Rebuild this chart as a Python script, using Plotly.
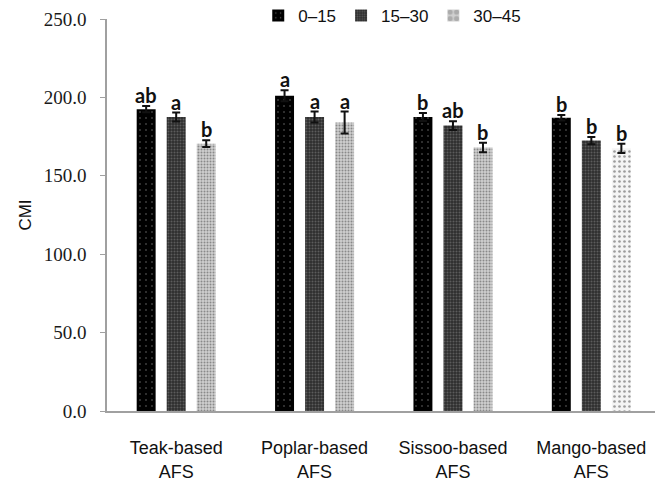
import plotly.graph_objects as go

# Agroforestry systems and soil depth layers (cm)
systems = ["Teak-based<br>AFS", "Poplar-based<br>AFS", "Sissoo-based<br>AFS", "Mango-based<br>AFS"]
depths = ["0–15", "15–30", "30–45"]

# Carbon management index (mean) per depth, one value per system
cmi_0_15 = [192.5, 201.0, 187.5, 187.0]
cmi_15_30 = [187.5, 187.5, 182.0, 172.5]
cmi_30_45 = [170.5, 184.0, 168.0, 167.5]

# Standard errors
se_0_15 = [2.0, 3.5, 2.5, 1.8]
se_15_30 = [2.8, 3.5, 2.8, 2.3]
se_30_45 = [2.2, 7.0, 3.0, 3.0]

# Significance letters
sig_0_15 = ["ab", "a", "b", "b"]
sig_15_30 = ["a", "a", "ab", "b"]
sig_30_45 = ["b", "a", "b", "b"]

values = [cmi_0_15, cmi_15_30, cmi_30_45]
errors = [se_0_15, se_15_30, se_30_45]
letters = [sig_0_15, sig_15_30, sig_30_45]

# Fill textures for each depth layer: base colour plus an overlaid dot texture
styles = [
    dict(bg="#000000", fg="#d0d0d0", size=6, solidity=0.06),
    dict(bg="#2e2e2e", fg="#8a8a8a", size=3, solidity=0.35),
    dict(bg=["#cfcfcf", "#cfcfcf", "#cfcfcf", "#f4f4f4"],
         fg=["#8a8a8a", "#8a8a8a", "#8a8a8a", "#6a6a6a"],
         size=[3, 3, 3, 5], solidity=[0.35, 0.35, 0.35, 0.22]),
]

offset = 0.217
bar_w = 0.137

fig = go.Figure()
annotations = []
for k, name in enumerate(depths):
    xs = [i + (k - 1) * offset for i in range(len(systems))]
    st = styles[k]
    fig.add_trace(go.Bar(
        x=xs, y=values[k], width=bar_w, name=name,
        marker=dict(color=st["bg"], line=dict(width=0),
                    pattern=dict(shape=".", fgcolor=st["fg"], size=st["size"],
                                 solidity=st["solidity"], fillmode="overlay")),
        error_y=dict(type="data", array=errors[k], visible=True,
                     color="#111111", thickness=2, width=4),
    ))
    for x, v, e, t in zip(xs, values[k], errors[k], letters[k]):
        annotations.append(dict(
            x=x, y=v + e, xref="x", yref="y", text=t, showarrow=False,
            yanchor="bottom", xanchor="center", yshift=-3,
            font=dict(family="Lato", size=20, color="#111111", weight="bold"),
        ))

fig.update_layout(
    width=655, height=481,
    margin=dict(l=107, r=0, t=19, b=70, autoexpand=False),
    paper_bgcolor="white", plot_bgcolor="white",
    barmode="overlay",
    annotations=annotations,
    showlegend=True,
    legend=dict(orientation="h", x=0.276, xanchor="left", y=1.008, yanchor="middle",
                font=dict(family="Liberation Sans", size=17, color="#111111"),
                bgcolor="rgba(0,0,0,0)", itemwidth=30, tracegroupgap=0),
    xaxis=dict(
        range=[-0.5, 3.46], tickmode="array",
        tickvals=list(range(len(systems))), ticktext=systems,
        showline=True, linecolor="#a0a0a0", linewidth=1.5,
        ticks="", showgrid=False, zeroline=False,
        ticklabelstandoff=20,
        tickfont=dict(family="Liberation Sans", size=18, color="#111111"),
    ),
    yaxis=dict(
        range=[0, 250], tickvals=[0, 50, 100, 150, 200, 250], tickformat=".1f",
        showline=True, linecolor="#a0a0a0", linewidth=1.5,
        ticks="outside", ticklen=5, tickcolor="#a0a0a0",
        showgrid=False, zeroline=False, ticklabelstandoff=10,
        tickfont=dict(family="Liberation Serif, Times New Roman, serif", size=19, color="#1a1a1a"),
        title=dict(text="CMI", standoff=8,
                   font=dict(family="Liberation Sans", size=17, color="#111111")),
    ),
)

fig.write_html("out.html")
